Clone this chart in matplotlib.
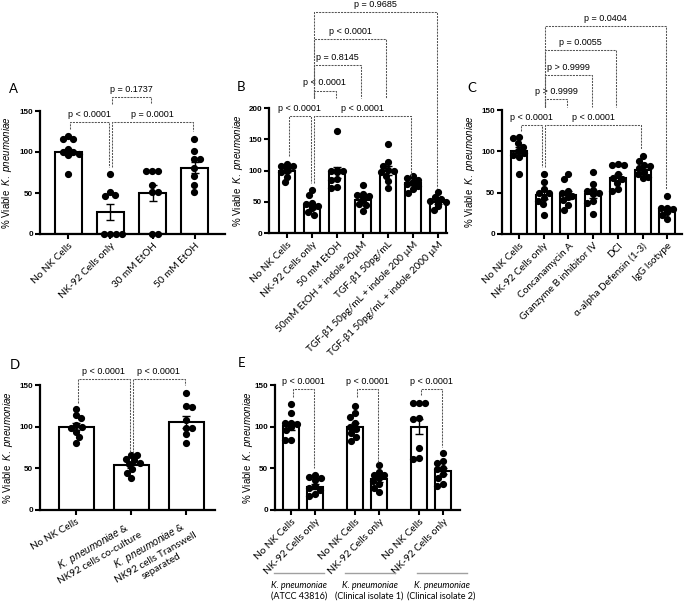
import numpy as np
import matplotlib
matplotlib.use('Agg')
import matplotlib.pyplot as plt
import matplotlib.transforms as mtransforms

plt.rcParams['font.family'] = ['Liberation Sans', 'DejaVu Sans']
plt.rcParams['mathtext.fontset'] = 'custom'
plt.rcParams['mathtext.it'] = 'Liberation Sans:italic'
plt.rcParams['mathtext.rm'] = 'Liberation Sans'

W, H = 685, 603
LATO = ['Lato', 'DejaVu Sans']
YLABEL = '% Viable  $\\mathit{K.\\ pneumoniae}$'
KP = '$\\mathit{K.\\ pneumoniae}$'

# ---- panel A ----
a_labels = ['No NK Cells', 'NK-92 Cells only', '30 mM EtOH', '50 mM EtOH']
a_means = [100, 27, 50, 81]
a_sem = [4, 9.5, 10, 7]
a_points = [[120, 116, 116, 104, 100, 100, 98, 96, 73],
            [73, 51, 47, 46, 0, 0, 0, 0],
            [77, 77, 77, 60, 51, 51, 0, 0],
            [116, 101, 91, 91, 81, 71, 60, 51]]
a_pairs = [(0, 1), (1, 3), (1, 2)]
a_brk_y = [137, 137, 167]
a_legs = [(128, 82), (82, 126), (159, 159)]
a_p = ['p < 0.0001', 'p = 0.0001', 'p = 0.1737']

# ---- panel B ----
b_labels = ['No NK Cells', 'NK-92 Cells only', '50 mM EtOH', '50mM EtOH + indole 20µM',
            'TGF-β1 50pg/mL', 'TGF-β1 50pg/mL + indole 200 µM', 'TGF-β1 50pg/mL + indole 2000 µM']
b_means = [100, 43, 97, 53, 100, 80, 50]
b_sem = [3, 4, 9, 4, 7, 3, 3]
b_points = [[110, 108, 107, 104, 103, 100, 98, 90, 81],
            [69, 61, 48, 46, 44, 42, 40, 33, 29],
            [164, 101, 100, 99, 97, 86, 85, 73, 72],
            [77, 62, 61, 60, 57, 53, 46, 45, 35],
            [142, 113, 107, 101, 100, 98, 92, 83, 72],
            [91, 88, 85, 82, 80, 78, 75, 70, 64],
            [65, 57, 54, 52, 50, 49, 48, 44, 37]]
b_pairs = [(0, 1), (1, 5), (1, 2), (1, 3), (1, 4), (1, 6)]
b_brk_y = [187, 187, 228, 269, 311, 353]
b_legs = [(123, 80), (80, 91), (216, 216), (216, 216), (216, 216), (216, 72)]
b_p = ['p < 0.0001', 'p < 0.0001', 'p < 0.0001', 'p = 0.8145', 'p < 0.0001', 'p = 0.9685']

# ---- panel C ----
c_labels = ['No NK Cells', 'NK-92 Cells only', 'Concanamycin A', 'Granzyme B inhibitor IV',
            'DCI', 'α-alpha Defensin (1-3)', 'IgG Isotype']
c_means = [100, 47, 47, 48, 68, 78, 30]
c_sem = [5, 5, 5, 5, 4, 3, 3]
c_points = [[117, 116, 110, 105, 100, 98, 96, 93, 72],
            [73, 63, 54, 50, 49, 43, 40, 36, 23],
            [73, 67, 52, 49, 46, 45, 41, 35, 29],
            [75, 61, 53, 52, 50, 48, 40, 37, 24],
            [85, 84, 83, 72, 68, 66, 62, 54, 52],
            [94, 88, 84, 82, 80, 75, 72, 69, 68],
            [46, 32, 31, 30, 29, 28, 27, 23, 18]]
c_pairs = [(0, 1), (1, 5), (1, 2), (1, 3), (1, 4), (1, 6)]
c_brk_y = [132, 132, 163, 192, 222, 252]
c_legs = [(124, 81), (81, 103), (154, 154), (154, 154), (154, 154), (154, 55)]
c_p = ['p < 0.0001', 'p < 0.0001', 'p > 0.9999', 'p > 0.9999', 'p = 0.0055', 'p = 0.0404']

# ---- panel D ----
d_labels = ['No NK Cells', KP + ' &\nNK92 cells co-culture', KP + ' &\nNK92 cells Transwell\nseparated']
d_means = [100, 54, 106]
d_sem = [4, 3, 7]
d_points = [[121, 114, 110, 102, 100, 98, 94, 88, 80],
            [66, 66, 61, 60, 57, 55, 49, 44, 38],
            [140, 125, 124, 108, 99, 98, 91, 80]]
d_pairs = [(0, 1), (1, 2)]
d_brk_y = [157, 157]
d_legs = [(128, 68), (68, 150)]
d_p = ['p < 0.0001', 'p < 0.0001']

# ---- panel E ----
e_labels = ['No NK Cells', 'NK-92 Cells only'] * 3
e_groups = ['(ATCC 43816)', '(Clinical isolate 1)', '(Clinical isolate 2)']
e_means = [101, 28, 100, 37, 100, 47]
e_sem = [4.5, 3, 4, 3.5, 9, 4]
e_points = [[127, 116, 104, 104, 103, 100, 96, 84, 84],
            [42, 40, 39, 36, 29, 26, 24, 19, 17],
            [125, 117, 112, 104, 100, 97, 93, 88, 83],
            [54, 46, 42, 42, 38, 35, 31, 26, 22],
            [129, 129, 129, 111, 109, 74, 63, 61],
            [68, 59, 57, 50, 49, 43, 38, 31, 29]]
e_pairs = [(0, 1), (2, 3), (4, 5)]
e_brk_y = [145, 145, 145]
e_legs = [(136, 51), (136, 56), (138, 76)]
e_p = ['p < 0.0001'] * 3

fig = plt.figure(figsize=(W / 100, H / 100), dpi=100)
DOT = 5.8  # dot diameter in px


def make_panel(box, p0, step, pos, ymax, ystep, width_px, means, sem, points,
               labels, rot, ylab_x, letter, letter_xy):
    x0, x1, ytop, ybot = box
    ax = fig.add_axes([x0 / W, 1 - ybot / H, (x1 - x0) / W, (ybot - ytop) / H])
    ax.set_xlim((x0 - p0) / step, (x1 - p0) / step)
    ax.set_ylim(0, ymax)
    for s in ['top', 'right']:
        ax.spines[s].set_visible(False)
    for s in ['left', 'bottom']:
        ax.spines[s].set_linewidth(1.6)
    ax.bar(pos, means, width=width_px / step, color='white', edgecolor='black',
           linewidth=1.5, zorder=2)
    ax.errorbar(pos, means, yerr=sem, fmt='none', ecolor='black', elinewidth=1,
                capsize=3, capthick=1, zorder=4)
    sx = (x1 - x0) / (ax.get_xlim()[1] - ax.get_xlim()[0])
    sy = (ybot - ytop) / ymax
    for xc, vals in zip(pos, points):
        placed, xs = [], []
        half = width_px / 2
        cands = sorted(np.arange(-half, half + 0.1, 1.0), key=lambda c: (abs(c), c))
        for v in vals:
            y = v * sy
            best = cands[0]
            for c in cands:
                if all((c - px) ** 2 + (y - py) ** 2 >= DOT ** 2 for px, py in placed):
                    best = c
                    break
            placed.append((best, y))
            xs.append(xc + best / sx)
        ax.plot(xs, vals, 'o', color='black', markersize=DOT * 0.72, zorder=3,
                clip_on=False)
    ax.set_yticks(np.arange(0, ymax + 1, ystep))
    ax.set_xticks(pos)
    ax.tick_params(axis='both', direction='out', length=3.5, width=1.5)
    ax.tick_params(axis='y', pad=1.5)
    ax.tick_params(axis='x', pad=1.5)
    for t in ax.get_yticklabels():
        t.set_fontsize(5.8)
        t.set_fontweight('bold')
    ax.set_xticklabels(labels, rotation=rot, ha='right', va='top',
                       rotation_mode='anchor', fontsize=7.2, family=LATO,
                       multialignment='center')
    ax.set_ylabel(YLABEL, fontsize=7)
    ax.yaxis.set_label_coords((ylab_x + 5 - x0) / (x1 - x0), 0.5)
    fig.text(letter_xy[0] / W, 1 - letter_xy[1] / H, letter, fontsize=9.5,
             family=LATO, va='center')
    return ax, step


def brackets(ax, step, pos, pairs, ys, legs, texts):
    off = 1.5 / step
    kw = dict(color='#555555', lw=0.75, ls=(0, (2, 1)), clip_on=False, zorder=5)
    for (i, j), y, (yl, yr), t in zip(pairs, ys, legs, texts):
        xa, xb = pos[i] + off, pos[j] - off
        ax.plot([xa, xa, xb, xb], [yl, y, y, yr], **kw)
        ax.annotate(t, ((xa + xb) / 2, y), xytext=(0, 2.2), textcoords='offset points',
                    ha='center', va='bottom', fontsize=6.5, annotation_clip=False)


pa = np.arange(len(a_labels))
ax, st = make_panel((40, 225, 111, 234), 68, 42.3, pa, 150, 50, 27, a_means, a_sem,
                    a_points, a_labels, 45, 9, 'A', (9, 89))
brackets(ax, st, pa, a_pairs, a_brk_y, a_legs, a_p)

pb = np.arange(len(b_labels))
ax, st = make_panel((269, 447, 108, 233), 287, 25.2, pb, 200, 50, 16, b_means, b_sem,
                    b_points, b_labels, 45, 240, 'B', (237, 87))
brackets(ax, st, pb, b_pairs, b_brk_y, b_legs, b_p)

pc = np.arange(len(c_labels))
ax, st = make_panel((502, 682, 110, 234), 519, 24.7, pc, 150, 50, 16, c_means, c_sem,
                    c_points, c_labels, 45, 472, 'C', (467, 88))
brackets(ax, st, pc, c_pairs, c_brk_y, c_legs, c_p)

pd_ = np.arange(len(d_labels))
ax, st = make_panel((40, 215, 385, 510), 76, 55, pd_, 150, 50, 35, d_means, d_sem,
                    d_points, d_labels, 30, 10, 'D', (10, 365))
brackets(ax, st, pd_, d_pairs, d_brk_y, d_legs, d_p)

pe = np.array([g * 8 / 3 + k for g in range(3) for k in range(2)])
ax, st = make_panel((275, 460, 385, 510), 291, 24, pe, 150, 50, 16, e_means, e_sem,
                    e_points, e_labels, 45, 250, 'E', (238, 363))
brackets(ax, st, pe, e_pairs, e_brk_y, e_legs, e_p)

# group captions under panel E
cap_px = [299, 369.5, 441.5]
trans = mtransforms.blended_transform_factory(ax.transData, ax.transAxes)
for cx, g in zip(cap_px, e_groups):
    xc = (cx - 291) / st
    ax.plot([xc - 25 / st, xc + 25 / st], [-0.504, -0.504], color='#a0a0a0', lw=1,
            transform=trans, clip_on=False)
    ax.text(xc, -0.6, 'K. pneumoniae', transform=trans, ha='center', va='center',
            fontsize=6.5, family=LATO, style='italic')
    ax.text(xc, -0.69, g, transform=trans, ha='center', va='center',
            fontsize=6.5, family=LATO)

fig.savefig('out.png', dpi=100)
